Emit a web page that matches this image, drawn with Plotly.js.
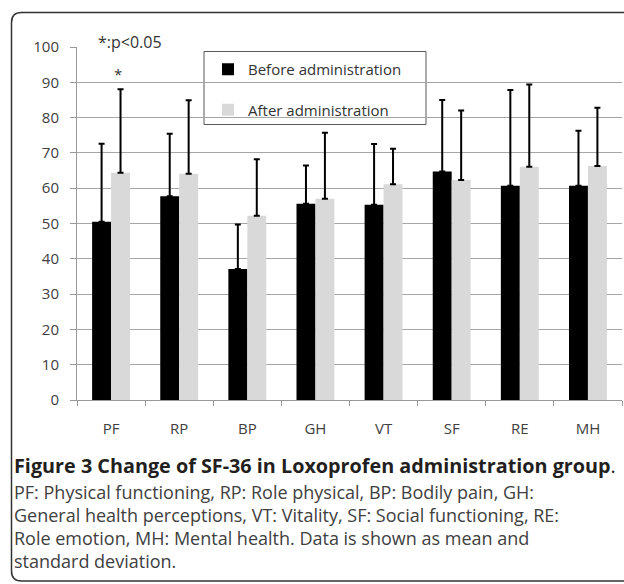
<!DOCTYPE html>
<html>
<head>
<meta charset="utf-8">
<script src="https://cdn.plot.ly/plotly-3.0.1.min.js"></script>
<style>
  html, body { margin: 0; padding: 0; background: #fff; }
  #chart { width: 624px; height: 584px; }
</style>
</head>
<body>
<div id="chart"></div>
<script>
// SF-36 subscale scores (mean and SD), before vs after Loxoprofen
const categories = ['PF', 'RP', 'BP', 'GH', 'VT', 'SF', 'RE', 'MH'];
const beforeMean = [50.5, 57.7, 37.1, 55.6, 55.3, 64.7, 60.7, 60.7];
const beforeSD   = [22.1, 17.7, 12.6, 10.8, 17.2, 20.3, 27.1, 15.6];
const afterMean  = [64.4, 64.1, 52.2, 57.0, 61.1, 62.3, 66.1, 66.3];
const afterSD    = [23.6, 20.8, 16.0, 18.7, 10.1, 19.7, 23.3, 16.5];
const seriesNames = ['Before administration', 'After administration'];
const yTickVals = [0, 10, 20, 30, 40, 50, 60, 70, 80, 90, 100];
// significance marks placed above the "after" bar
const significance = ['*', '', '', '', '', '', '', ''];
const noteText = '*:p<0.05';
const captionTitle = 'Figure 3 Change of SF-36 in Loxoprofen administration group';
const captionLines = [
  'PF: Physical functioning, RP: Role physical, BP: Bodily pain, GH:',
  'General health perceptions, VT: Vitality, SF: Social functioning, RE:',
  'Role emotion, MH: Mental health. Data is shown as mean and',
  'standard deviation.'
];

const W = 624, H = 584;
const M = { l: 77, r: 2, t: 47, b: 184 };
const plotW = W - M.l - M.r, plotH = H - M.t - M.b;
// pixel position -> paper fraction
const px = v => (v - M.l) / plotW;
const py = v => (H - M.b - v) / plotH;

const FONT = 'Open Sans, Noto Sans, sans-serif';
const zeros = categories.map(() => 0);

const traces = [
  {
    type: 'bar', name: seriesNames[0], x: categories, y: beforeMean,
    marker: { color: '#000000' }, legendgroup: 'g1',
    error_y: { type: 'data', symmetric: false, array: beforeSD, arrayminus: zeros,
               color: '#000000', thickness: 2, width: 3 },
    hoverinfo: 'skip'
  },
  {
    type: 'bar', name: seriesNames[1], x: categories, y: afterMean,
    marker: { color: '#d9d9d9' }, legendgroup: 'g2',
    error_y: { type: 'data', symmetric: false, array: afterSD, arrayminus: zeros,
               color: '#000000', thickness: 2, width: 3 },
    hoverinfo: 'skip'
  }
];

// rounded outer frame
function roundedRect(x0, y0, x1, y1, r) {
  const P = (x, y) => px(x) + ',' + py(y);
  return 'M' + P(x0 + r, y0) + ' L' + P(x1 - r, y0) + ' Q' + P(x1, y0) + ' ' + P(x1, y0 + r) +
         ' L' + P(x1, y1 - r) + ' Q' + P(x1, y1) + ' ' + P(x1 - r, y1) +
         ' L' + P(x0 + r, y1) + ' Q' + P(x0, y1) + ' ' + P(x0, y1 - r) +
         ' L' + P(x0, y0 + r) + ' Q' + P(x0, y0) + ' ' + P(x0 + r, y0) + ' Z';
}

const shapes = [
  { type: 'path', xref: 'paper', yref: 'paper', path: roundedRect(11.5, 12.5, 640, 581, 10),
    line: { color: '#333333', width: 1.5 }, layer: 'above' },
  { type: 'rect', xref: 'paper', yref: 'paper', layer: 'between',
    x0: px(204), x1: px(426), y0: py(51.5), y1: py(124.5),
    fillcolor: '#ffffff', line: { color: '#595959', width: 1 } }
];

const annotations = [
  { xref: 'paper', yref: 'paper', x: px(96), y: py(42), xanchor: 'left', yanchor: 'middle',
    text: noteText, showarrow: false, font: { family: FONT, size: 16, color: '#333333' } }
];
significance.forEach((s, i) => {
  if (!s) return;
  annotations.push({ x: categories[i], y: afterMean[i] + afterSD[i], xref: 'x', yref: 'y',
    xshift: 7, yshift: 15, xanchor: 'center', yanchor: 'middle', text: s, showarrow: false,
    font: { family: FONT, size: 15, color: '#333333' } });
});
annotations.push({ xref: 'paper', yref: 'paper', x: px(12), y: py(465.5), xanchor: 'left', yanchor: 'middle',
  text: '<b>' + captionTitle + '</b>.', showarrow: false,
  font: { family: FONT, size: 19.8, color: '#231f20' } });
captionLines.forEach((t, i) => {
  annotations.push({ xref: 'paper', yref: 'paper', x: px(12), y: py(492 + 23 * i),
    xanchor: 'left', yanchor: 'middle', text: t, showarrow: false,
    font: { family: FONT, size: 18, color: '#404040' } });
});

const layout = {
  width: W, height: H,
  margin: M,
  paper_bgcolor: '#ffffff', plot_bgcolor: '#ffffff',
  font: { family: FONT, size: 15, color: '#404040' },
  barmode: 'group', bargap: 0.444, bargroupgap: 0,
  showlegend: true,
  legend: {
    x: px(208), y: py(53), xanchor: 'left', yanchor: 'top',
    bgcolor: 'rgba(0,0,0,0)', borderwidth: 0, tracegroupgap: 18,
    font: { family: FONT, size: 15, color: '#333333' }
  },
  xaxis: {
    type: 'category', showgrid: false, showline: true, linecolor: '#999999', linewidth: 1,
    ticks: 'outside', tickson: 'boundaries', ticklen: 5, tickcolor: '#999999',
    ticklabelstandoff: 15, tickfont: { family: FONT, size: 15, color: '#404040' },
    fixedrange: true
  },
  yaxis: {
    range: [0, 100], tickvals: yTickVals, showgrid: true, gridcolor: '#a6a6a6', gridwidth: 1,
    showline: true, linecolor: '#999999', linewidth: 1, zeroline: false,
    ticks: 'outside', ticklen: 6, tickcolor: '#999999', ticklabelstandoff: 8,
    tickfont: { family: FONT, size: 15, color: '#404040' }, fixedrange: true
  },
  shapes: shapes,
  annotations: annotations
};

Plotly.newPlot('chart', traces, layout, { staticPlot: true, displayModeBar: false });
</script>
</body>
</html>
